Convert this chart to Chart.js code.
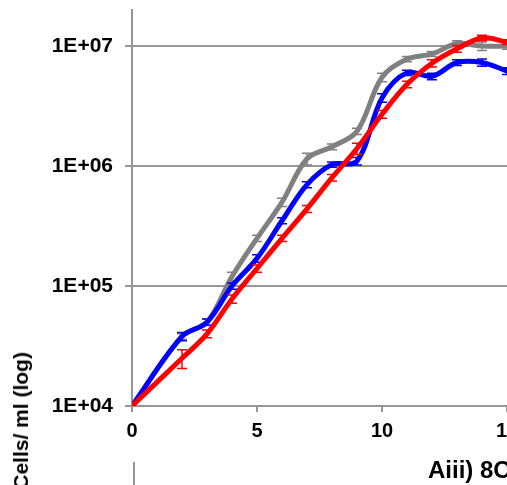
<!DOCTYPE html>
<html>
<head>
<meta charset="utf-8">
<script src="https://cdn.jsdelivr.net/npm/chart.js@4/dist/chart.umd.min.js"></script>
<style>
  html, body { margin: 0; padding: 0; background: #fff; overflow: hidden; }
  #wrap { position: relative; width: 507px; height: 485px; overflow: hidden; }
  #c { position: absolute; left: 0; top: 0; }
  .lbl { position: absolute; font-family: Arial, "Liberation Sans", sans-serif; font-weight: bold; color: #000; white-space: nowrap; }
  #ytitle { left: 29px; top: 352px; font-size: 21px; transform-origin: 0 0; transform: rotate(-90deg) translateX(-100%); line-height: 21px; margin-left: -19px; }
  #panel { left: 428px; top: 456px; font-size: 24px; line-height: 28px; }
  #vline { position: absolute; left: 133px; top: 462px; width: 2px; height: 30px; background: #969696; }
</style>
</head>
<body>
<div id="wrap">
  <canvas id="c" width="537" height="485"></canvas>
  <div class="lbl" id="ytitle">Cells/ ml (log)</div>
  <div class="lbl" id="panel">Aiii) 8C</div>
  <div id="vline"></div>
</div>
<script>
// days sampled
const days = [0, 2, 3, 4, 5, 6, 7, 8, 9, 10, 11, 12, 13, 14, 15];

// cells/ml
const redVals  = [1e4, 2.5e4, 4.0e4, 7.8e4, 1.4e5, 2.5e5, 4.4e5, 8.0e5, 1.4e6, 2.7e6, 4.8e6, 7.2e6, 9.5e6, 1.17e7, 1.08e7];
const blueVals = [1e4, 3.8e4, 5.0e4, 1.0e5, 1.7e5, 3.5e5, 7.0e5, 1.03e6, 1.1e6, 3.7e6, 6.0e6, 5.6e6, 7.3e6, 7.3e6, 6.2e6];
const greyVals = [1e4, 3.8e4, 5.0e4, 1.2e5, 2.5e5, 5.0e5, 1.15e6, 1.45e6, 1.95e6, 5.5e6, 7.8e6, 8.6e6, 1.05e7, 1.0e7, 1.0e7];

// error bars (+/-)
const redErr  = [0, 4.5e3, 3e3, 6e3, 1e4, 1.5e4, 3e4, 5e4, 1.5e5, 2e5, 3e5, 5e5, 6e5, 6e5, 5e5];
const blueErr = [0, 3e3, 3e3, 6e3, 1.2e4, 2e4, 4e4, 5e4, 8e4, 3e5, 3e5, 3.5e5, 4e5, 5e5, 4e5];
const greyErr = [0, 2e3, 3e3, 1e4, 1.5e4, 4e4, 1.3e5, 8e4, 1.2e5, 4.5e5, 4e5, 4e5, 6e5, 8e5, 6e5];

const yTicks = [1e4, 1e5, 1e6, 1e7];

const FONT = 'Arial, "Liberation Sans", sans-serif';
const GRID = '#969696';

function pts(vals) {
    return days.map((d, i) => ({ x: d, y: vals[i] }));
}

const errorBars = {
    id: 'errorBars',
    afterDatasetDraw(chart, args) {
        const ds = chart.data.datasets[args.index];
        if (!ds.errors) return;
        const ctx = chart.ctx;
        const xs = chart.scales.x, ys = chart.scales.y;
        ctx.save();
        ctx.strokeStyle = ds.borderColor;
        ctx.lineWidth = 1.5;
        ds.data.forEach((p, i) => {
            const e = ds.errors[i];
            if (!e) return;
            const px = xs.getPixelForValue(p.x);
            const top = ys.getPixelForValue(p.y + e);
            const bot = ys.getPixelForValue(p.y - e);
            ctx.beginPath();
            ctx.moveTo(px, top); ctx.lineTo(px, bot);
            ctx.moveTo(px - 5, top); ctx.lineTo(px + 5, top);
            ctx.moveTo(px - 5, bot); ctx.lineTo(px + 5, bot);
            ctx.stroke();
        });
        ctx.restore();
    }
};

function fmt(v) {
    const e = Math.round(Math.log10(v));
    return '1E+' + String(e).padStart(2, '0');
}

new Chart(document.getElementById('c'), {
    type: 'line',
    data: {
        datasets: [
            { data: pts(redVals), errors: redErr, borderColor: '#ff0000' },
            { data: pts(blueVals), errors: blueErr, borderColor: '#0000ff' },
            { data: pts(greyVals), errors: greyErr, borderColor: '#808080' }
        ]
    },
    options: {
        responsive: false,
        animation: false,
        layout: { padding: { left: 0, right: 30, top: 10, bottom: 0 } },
        elements: {
            line: { borderWidth: 5, tension: 0.35, fill: false, borderCapStyle: 'round' },
            point: { radius: 0 }
        },
        plugins: { legend: { display: false }, tooltip: { enabled: false } },
        scales: {
            x: {
                type: 'linear',
                min: 0,
                max: 15,
                afterFit: s => { s.height = 79; s.paddingLeft = 0; s.paddingRight = 0; },
                border: { color: GRID, width: 2 },
                grid: { drawOnChartArea: false, color: GRID, lineWidth: 2, tickLength: 6 },
                ticks: { stepSize: 5, color: '#000', padding: 7, maxRotation: 0, font: { family: FONT, size: 20, weight: 'bold' } }
            },
            y: {
                type: 'logarithmic',
                min: 1e4,
                max: 2e7,
                afterFit: s => { s.width = 132; s.paddingTop = 0; s.paddingBottom = 0; },
                afterBuildTicks: s => { s.ticks = s.ticks.filter(t => yTicks.includes(t.value)); },
                border: { color: GRID, width: 2 },
                grid: { color: GRID, lineWidth: 2, tickLength: 7 },
                ticks: { color: '#000', padding: 12, callback: v => fmt(v), font: { family: FONT, size: 21, weight: 'bold' } }
            }
        }
    },
    plugins: [errorBars]
});
</script>
</body>
</html>
